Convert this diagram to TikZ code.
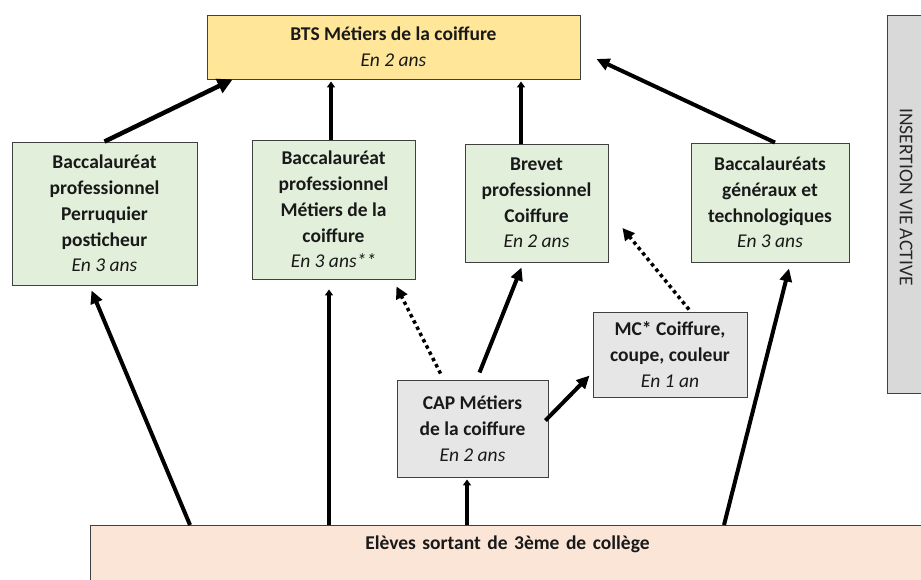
\documentclass[tikz,border=0pt]{standalone}
\usepackage{fontspec}
\setmainfont{Carlito}
\usepackage{tikz}
\usetikzlibrary{arrows.meta, calc, positioning}

\definecolor{btsfill}{HTML}{FFE699}
\definecolor{bacfill}{HTML}{E2EFDA}
\definecolor{capfill}{HTML}{E7E6E6}
\definecolor{colfill}{HTML}{FBE5D6}
\definecolor{insfill}{HTML}{D9D9D9}
\definecolor{boxline}{HTML}{404040}

\begin{document}
\begin{tikzpicture}[x=1pt, y=-1pt,
		box/.style={draw=boxline, line width=0.9pt, align=center, inner sep=0pt, text=black!90,
			font=\fontsize{19.5}{25.8}\selectfont\bfseries},
		big/.style={line width=4.5pt, -{Triangle[length=15pt,width=15pt]}},
		mid/.style={line width=4pt, -{Triangle[length=13pt,width=12pt]}},
		small/.style={line width=3.5pt, -{Triangle[length=6pt,width=8pt]}},
		dots/.style={line width=3.5pt, dash pattern=on 3.5pt off 3.5pt, -{Triangle[length=12pt,width=12pt]}}]
	\useasboundingbox (0,0) rectangle (921,580);
	
	% boites
	\node [box, fill=btsfill, minimum width=373, minimum height=64] (bts) at (393.5,47) {BTS Métiers de la coiffure\\{\mdseries\itshape En 2 ans}};
	\node [box, fill=bacfill, minimum width=185, minimum height=143] (perruq) at (104.5,213.5) {Baccalauréat\\professionnel\\Perruquier\\posticheur\\{\mdseries\itshape En 3 ans}};
	\node [box, fill=bacfill, minimum width=163, minimum height=139] (bacpro) at (333.5,209.5) {Baccalauréat\\professionnel\\Métiers de la\\coiffure\\{\mdseries\itshape En 3 ans**}};
	\node [box, fill=bacfill, minimum width=143, minimum height=118] (brevet) at (536.5,203) {Brevet\\professionnel\\Coiffure\\{\mdseries\itshape En 2 ans}};
	\node [box, fill=bacfill, minimum width=158, minimum height=119] (bacgen) at (770,202.5) {Baccalauréats\\généraux et\\technologiques\\{\mdseries\itshape En 3 ans}};
	\node [box, fill=capfill, minimum width=154, minimum height=85] (mc) at (670,354.5) {MC* Coiffure,\\coupe, couleur\\{\mdseries\itshape En 1 an}};
	\node [box, fill=capfill, minimum width=151, minimum height=97] (cap) at (472.5,428.5) {CAP Métiers\\de la coiffure\\{\mdseries\itshape En 2 ans}};
	\node [box, fill=insfill, minimum width=36, minimum height=378] (insert) at (905,204) {};
	\node [rotate=-90, font=\fontsize{19.5}{24}\selectfont, text=black!85] (instext) at (906,197) {INSERTION VIE ACTIVE};
	\node [box, fill=colfill, anchor=north west, inner xsep=0pt, text width=834, inner ysep=9pt, text height=15pt, text depth=40pt] (college) at (90,525) {Elèves sortant de 3ème de collège};
	
	% vers le BTS
	\draw [big] ($(perruq.north)+(0,0)$) -- ($(bts.south west)+(26,0)$);
	\draw [small] (bacpro.north -| 331,0) -- ($(bts.south -| 331,0)+(0,2)$);
	\draw [small] (brevet.north -| 521,0) -- ($(bts.south -| 521,0)+(0,2)$);
	\draw [mid] ($(bacgen.north)+(5,0)$) -- ($(bts.east)+(16,12)$);
	
	% depuis le college
	\draw [mid] ($(college.north west)+(100,0)$) -- ($(perruq.south)+(-13,5)$);
	\draw [small] ($(college.north west)+(239,0)$) -- ($(bacpro.south -| 329,0)+(0,10)$);
	\draw [small] ($(college.north west)+(377,0)$) -- ($(cap.south -| 467,0)+(0,2)$);
	\draw [mid] ($(college.north west)+(634,0)$) -- ($(bacgen.south)+(19,6)$);
	
	% depuis le CAP
	\draw [dots] ($(cap.north west)+(44,-6)$) -- ($(bacpro.south east)+(-19,7)$);
	\draw [mid] ($(cap.north)+(7,-7)$) -- ($(brevet.south)+(-15,5)$);
	\draw [mid] ($(cap.east)+(-3,-8)$) -- ($(mc.west)+(-3,21)$);
	\draw [dots] ($(mc.north)+(19,-2)$) -- ($(brevet.east)+(14,25)$);
\end{tikzpicture}
\end{document}
